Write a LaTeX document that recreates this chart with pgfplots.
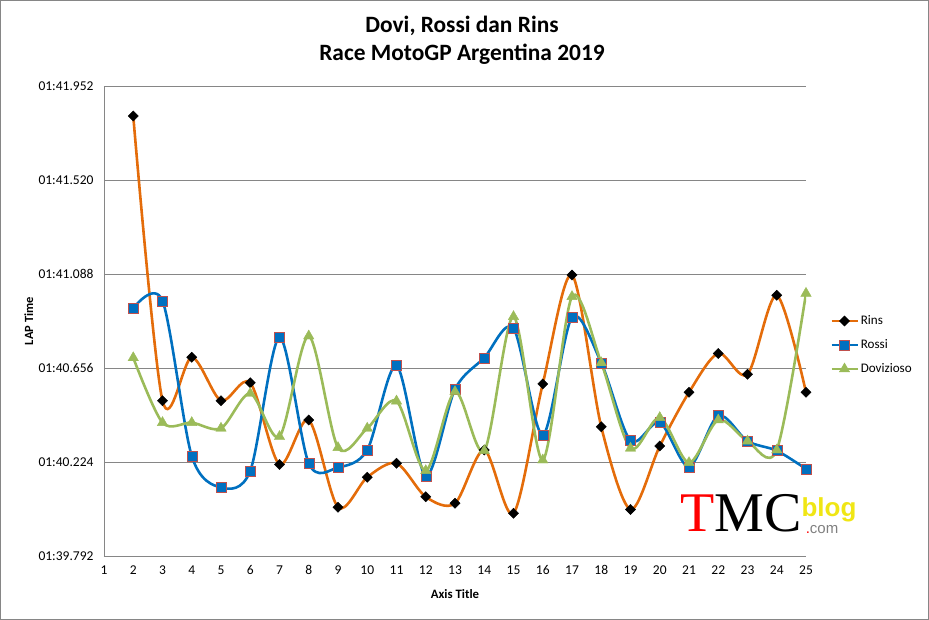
\documentclass[border=0pt]{standalone}
\usepackage{fontspec}
\setmainfont{Carlito}
\newfontfamily\seriffont{Liberation Serif}
\newfontfamily\logofont{Liberation Sans}
\usepackage{pgfplots}
\pgfplotsset{compat=1.18}
\usepackage{pgfplotstable}

\definecolor{rins}{RGB}{228,108,10}
\definecolor{rossi}{RGB}{0,112,192}
\definecolor{dovi}{RGB}{155,187,89}
\definecolor{gridc}{RGB}{134,134,134}
\definecolor{rossiedge}{RGB}{192,80,77}
\definecolor{logoyellow}{RGB}{240,230,20}

\pgfplotstableread{
lap rins rossi dovi
2  101.814 100.930 100.703
3  100.506 100.965 100.405
4  100.705 100.252 100.405
5  100.506 100.107 100.379
6  100.588 100.183 100.539
7  100.213 100.797 100.341
8  100.417 100.218 100.803
9  100.016 100.199 100.290
10 100.154 100.279 100.379
11 100.218 100.667 100.504
12 100.064 100.160 100.184
13 100.034 100.558 100.547
14 100.279 100.703 100.276
15 99.988  100.838 100.892
16 100.583 100.348 100.233
17 101.083 100.889 100.984
18 100.386 100.680 100.680
19 100.006 100.322 100.287
20 100.297 100.406 100.428
21 100.544 100.202 100.221
22 100.723 100.437 100.417
23 100.627 100.320 100.320
24 100.990 100.276 100.279
25 100.544 100.192 100.999
}\datatable

\begin{document}
\begin{tikzpicture}[x=1pt,y=1pt]
\useasboundingbox (0,0) rectangle (929,620);
\draw[gridc, line width=1pt] (0.5,0.5) rectangle (928.5,619.5);
\begin{axis}[
  at={(104pt,64pt)}, anchor=south west,
  scale only axis, width=702pt, height=470pt,
  xmin=1, xmax=25, ymin=99.792, ymax=101.952,
  xtick={1,...,25},
  ytick={99.792,100.224,100.656,101.088,101.520,101.952},
  yticklabels={01:39.792,01:40.224,01:40.656,01:41.088,01:41.520,01:41.952},
  /pgf/number format/assume math mode=true,
  ymajorgrids,
  grid style={gridc, line width=0.8pt},
  axis x line*=bottom, axis y line*=left,
  axis line style={gridc, line width=0.8pt, -},
  major tick length=0pt,
  tick label style={font=\fontsize{13.5}{15}\selectfont, text=black},
  xticklabel style={yshift=-6pt},
  yticklabel style={xshift=-7pt},
  xlabel={Axis Title},
  ylabel={LAP Time},
  xlabel style={font=\bfseries\fontsize{12.8}{15}\selectfont, at={(axis description cs:0.5,0)}, anchor=center, yshift=-38pt},
  ylabel style={font=\bfseries\fontsize{12.5}{15}\selectfont, at={(axis description cs:-0.107,0.5)}, anchor=center},
  legend style={at={(axis description cs:1,0.449)}, anchor=west, xshift=24pt, draw=none, fill=none,
    font=\fontsize{13.1}{15}\selectfont, row sep=9.5pt, inner sep=0pt},
  legend cell align=left,
  legend image code/.code={\draw[mark repeat=2,mark phase=2,#1] plot coordinates {(0pt,0pt)(13pt,0pt)(26pt,0pt)};},
  every axis plot/.append style={smooth, tension=0.5, line width=2.6pt},
]
\addplot[rins, mark=square*, mark size=3.6pt, mark options={rotate=45, fill=black, draw=black, line width=0.4pt}] table[x=lap, y=rins] {\datatable};
\addlegendentry{Rins}
\addplot[rossi, mark=square*, mark size=5pt, mark options={fill=rossi, draw=rossiedge, line width=0.5pt}] table[x=lap, y=rossi] {\datatable};
\addlegendentry{Rossi}
\addplot[dovi, mark=triangle*, mark size=6pt, mark options={fill=dovi, draw=dovi, line width=0.4pt}] table[x=lap, y=dovi] {\datatable};
\addlegendentry{Dovizioso}
\end{axis}
\node[font=\bfseries\fontsize{23.4}{28}\selectfont, align=center] at (462,580) {Dovi, Rossi dan Rins\\Race MotoGP Argentina 2019};
% watermark
\node[font=\seriffont\fontsize{56}{56}\selectfont, inner sep=0pt, anchor=base] at (741,88) {\textcolor{red}{T}MC};
\node[font=\logofont\bfseries\fontsize{26}{26}\selectfont, text=logoyellow, inner sep=0pt, anchor=base] at (829,103) {blog};
\node[font=\logofont\fontsize{15}{15}\selectfont, text=gray, inner sep=0pt, anchor=base] at (822,86) {\textcolor{red}{.}com};
\end{tikzpicture}
\end{document}
